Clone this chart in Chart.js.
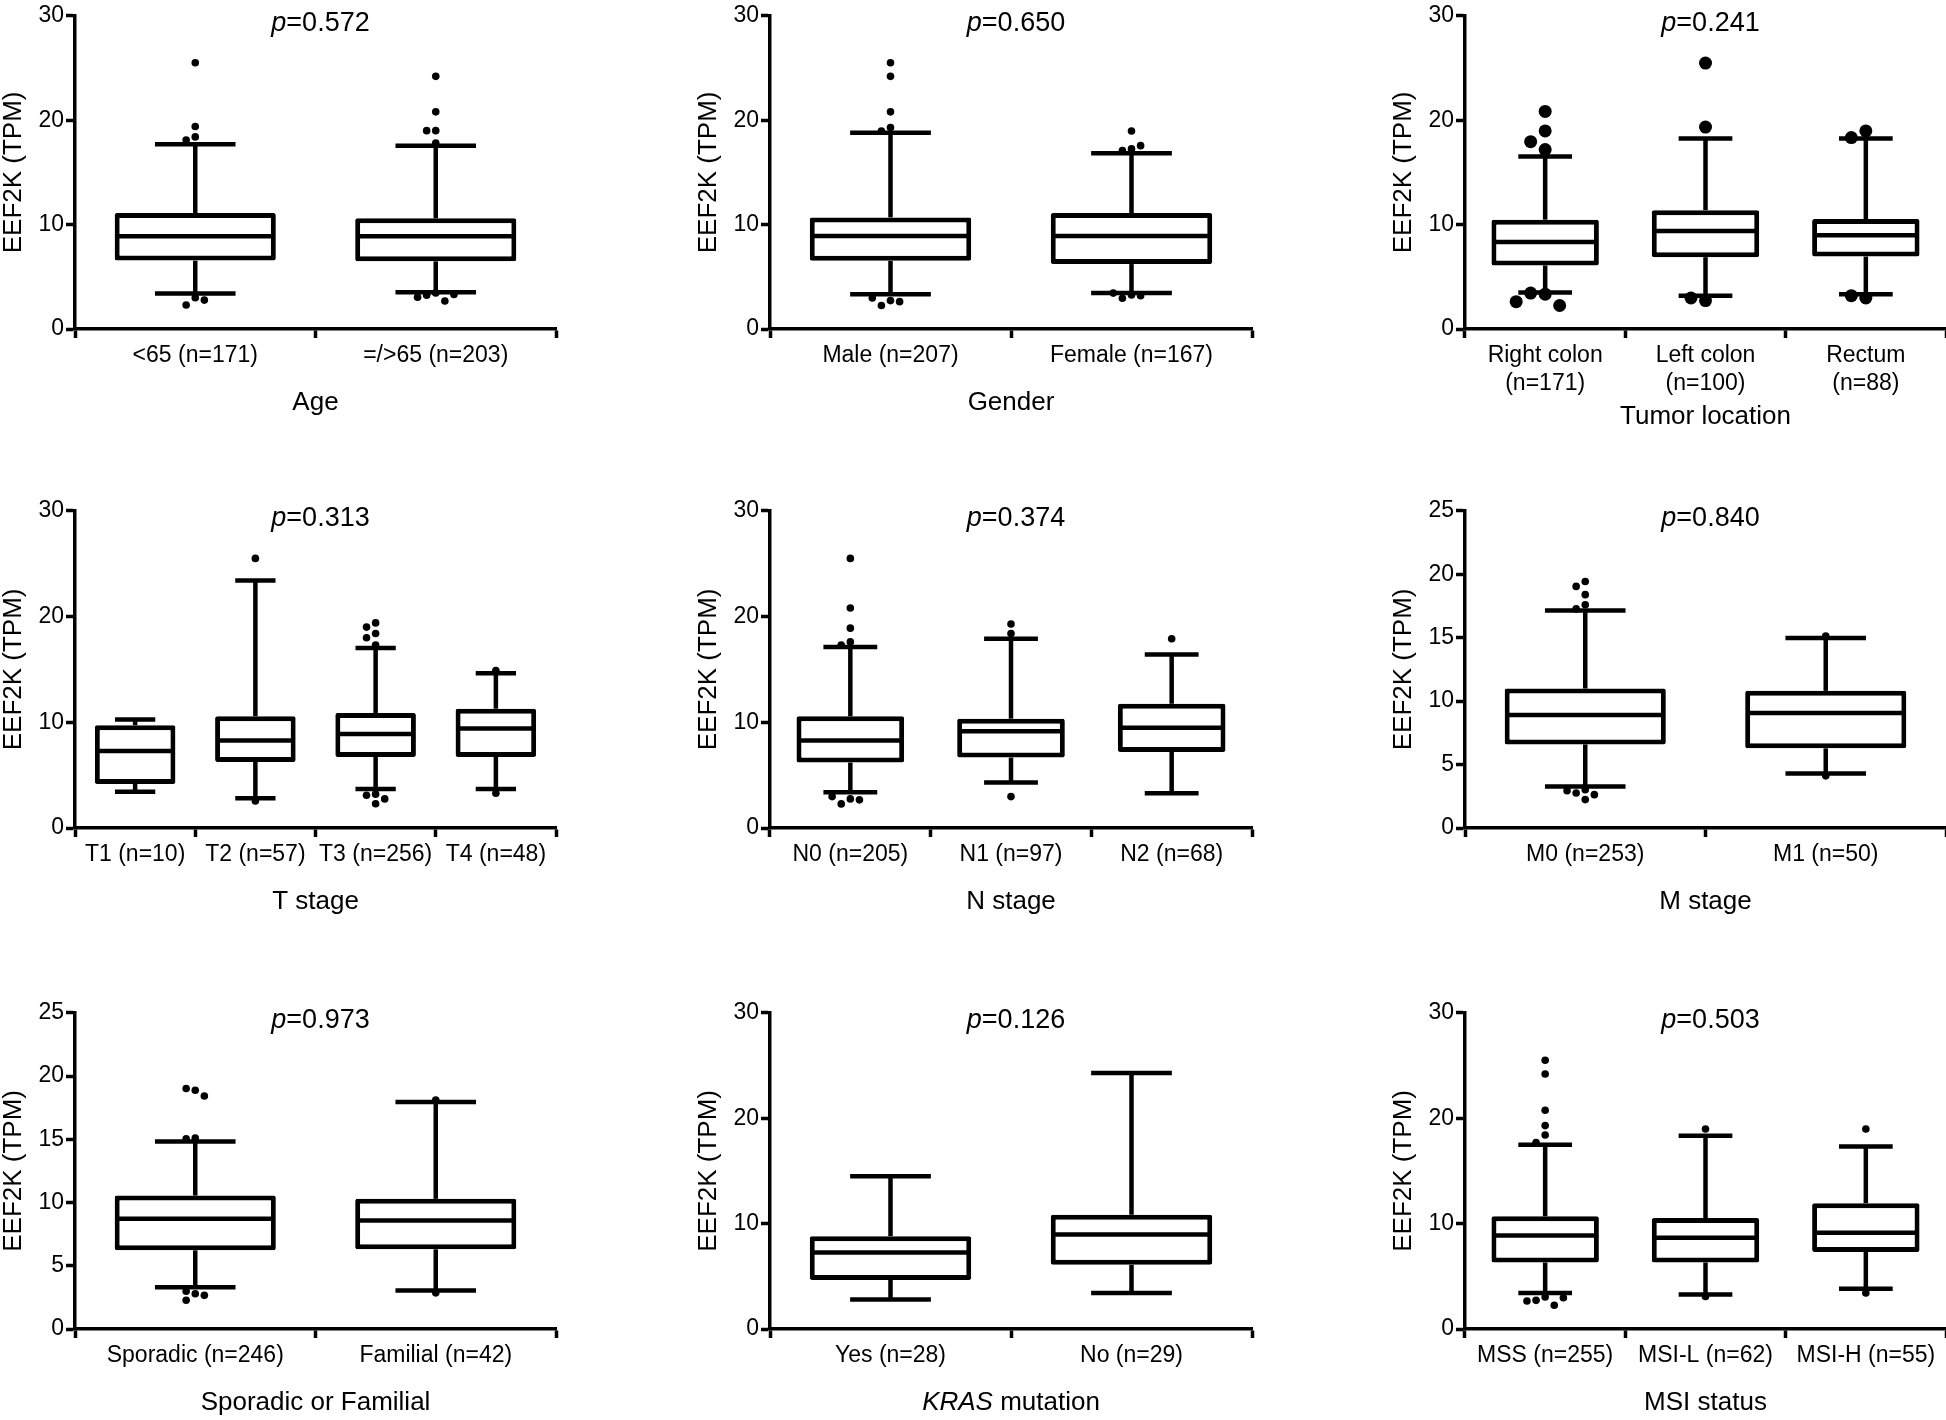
<!DOCTYPE html>
<html lang="en">
<head>
    <meta charset="UTF-8">
    <title>EEF2K expression by clinical features</title>
    <script src="https://cdn.jsdelivr.net/npm/chart.js"></script>
    <style>
        html, body { margin: 0; padding: 0; background: #fff; overflow: hidden; }
        #grid { position: relative; width: 1946px; height: 1420px; }
        #grid canvas { position: absolute; }
    </style>
</head>
<body>
    <div id="grid"></div>

    <script>
        // box = [lower whisker, Q1, median, Q3, upper whisker]
        const ageLabels = ['<65 (n=171)', '=/>65 (n=203)'];
        const ageBox = [[3.4, 6.55, 8.88, 11.1, 17.7], [3.53, 6.48, 8.88, 10.6, 17.56]];
        const ageOut = [[25.5, 19.4, 18.4, 18.1, 2.99, 2.3, 2.77], [24.2, 20.8, 19.0, 19.0, 17.8, 3.46, 3.24, 2.68, 3.05, 3.3]];

        const genderLabels = ['Male (n=207)', 'Female (n=167)'];
        const genderBox = [[3.34, 6.53, 8.9, 10.69, 18.8], [3.44, 6.22, 8.9, 11.1, 16.84]];
        const genderOut = [[25.5, 24.2, 20.8, 19.3, 18.97, 2.72, 2.25, 2.62, 2.97], [18.97, 17.25, 17.1, 17.56, 3.25, 2.94, 3.19, 3.44]];

        const locLabels = [['Right colon', '(n=171)'], ['Left colon', '(n=100)'], ['Rectum', '(n=88)']];
        const locBox = [[3.5, 6.09, 8.34, 10.47, 16.53], [3.19, 6.88, 9.38, 11.38, 18.25], [3.34, 6.94, 8.97, 10.53, 18.25]];
        const locOut = [[20.84, 18.97, 17.94, 17.19, 3.34, 3.44, 2.25, 2.62], [25.47, 19.34, 2.72, 2.97], [18.97, 18.34, 2.97, 3.19]];

        const tLabels = ['T1 (n=10)', 'T2 (n=57)', 'T3 (n=256)', 'T4 (n=48)'];
        const tBox = [[3.44, 4.16, 7.28, 9.72, 10.25], [2.81, 6.25, 8.28, 10.56, 23.4], [3.69, 6.72, 8.9, 10.88, 17.03], [3.69, 6.72, 9.41, 11.28, 14.63]];
        const tOut = [[], [25.5, 2.55], [19.4, 19.0, 18.4, 18.0, 17.3, 3.2, 3.1, 2.75, 2.3], [14.9, 3.28]];

        const nLabels = ['N0 (n=205)', 'N1 (n=97)', 'N2 (n=68)'];
        const nBox = [[3.38, 6.19, 8.28, 10.56, 17.13], [4.31, 6.66, 9.16, 10.34, 17.9], [3.28, 7.19, 9.47, 11.75, 16.4]];
        const nOut = [[25.5, 20.8, 18.9, 17.6, 17.3, 2.75, 2.28, 2.66, 2.97], [19.3, 18.4, 2.97], [17.9]];

        const mLabels = ['M0 (n=253)', 'M1 (n=50)'];
        const mBox = [[3.28, 6.59, 8.91, 10.99, 17.14], [4.3, 6.28, 9.06, 10.81, 14.97]];
        const mOut = [[19.43, 19.04, 18.39, 17.6, 17.27, 3.02, 2.76, 2.24, 2.63, 2.94], [15.13, 4.11]];

        const famLabels = ['Sporadic (n=246)', 'Familial (n=42)'];
        const famBox = [[3.31, 6.22, 8.72, 10.55, 14.82], [3.05, 6.3, 8.57, 10.29, 17.94]];
        const famOut = [[18.88, 19.01, 18.42, 15.1, 15.03, 2.79, 2.27, 2.66, 2.99], [18.1, 2.86]];

        const krasLabels = ['Yes (n=28)', 'No (n=29)'];
        const krasBox = [[2.81, 4.66, 7.25, 8.81, 14.5], [3.41, 6.09, 8.97, 10.84, 24.28]];
        const krasOut = [[], []];

        const msiLabels = ['MSS (n=255)', 'MSI-L (n=62)', 'MSI-H (n=55)'];
        const msiBox = [[3.41, 6.31, 8.88, 10.69, 17.47], [3.28, 6.31, 8.66, 10.53, 18.34], [3.81, 7.31, 9.13, 11.94, 17.31]];
        const msiOut = [[25.5, 24.2, 20.75, 19.3, 18.4, 17.7, 3.03, 2.72, 2.25, 2.66, 2.97], [18.97, 3.09], [18.97, 3.41]];

        const pValues = ['0.572', '0.650', '0.241', '0.313', '0.374', '0.840', '0.973', '0.126', '0.503'];
        const yMaxes = [30, 30, 30, 30, 30, 25, 25, 30, 30];

        const FONT = '"Liberation Sans", Arial, Helvetica, sans-serif';

        // panel grid (pixels)
        const colAxisX = [75, 770, 1465];
        const colEndX = [556, 1252, 1946];
        const rowTop = [12, 507, 1009];
        const rowBottom = [329, 828, 1329];

        const panels = [
            { labels: ageLabels, box: ageBox, out: ageOut, title: [['Age', false]] },
            { labels: genderLabels, box: genderBox, out: genderOut, title: [['Gender', false]] },
            { labels: locLabels, box: locBox, out: locOut, title: [['Tumor location', false]], dotR: 6.5, titleDy: 88 },
            { labels: tLabels, box: tBox, out: tOut, title: [['T stage', false]] },
            { labels: nLabels, box: nBox, out: nOut, title: [['N stage', false]] },
            { labels: mLabels, box: mBox, out: mOut, title: [['M stage', false]] },
            { labels: famLabels, box: famBox, out: famOut, title: [['Sporadic or Familial', false]] },
            { labels: krasLabels, box: krasBox, out: krasOut, title: [['KRAS', true], [' mutation', false]] },
            { labels: msiLabels, box: msiBox, out: msiOut, title: [['MSI status', false]] }
        ];

        // draws mixed italic / regular text centred on x
        function drawParts(ctx, parts, cx, cy, size) {
            const fonts = parts.map(p => (p[1] ? 'italic ' : '') + size + 'px ' + FONT);
            let total = 0;
            const widths = parts.map((p, i) => { ctx.font = fonts[i]; const w = ctx.measureText(p[0]).width; total += w; return w; });
            let x = cx - total / 2;
            ctx.textAlign = 'left';
            ctx.textBaseline = 'middle';
            parts.forEach((p, i) => { ctx.font = fonts[i]; ctx.fillText(p[0], x, cy); x += widths[i]; });
        }

        const boxExtras = {
            id: 'boxExtras',
            afterDatasetsDraw(chart, args, opts) {
                const { ctx, scales: { y } } = chart;
                const meta = chart.getDatasetMeta(0);
                const r = opts.dotR;
                const d = 2 * r + 1.5;
                ctx.save();
                ctx.strokeStyle = '#000';
                ctx.fillStyle = '#000';
                ctx.lineWidth = 4.5;
                const line = (x1, y1, x2, y2) => { ctx.beginPath(); ctx.moveTo(x1, y1); ctx.lineTo(x2, y2); ctx.stroke(); };
                opts.box.forEach((b, i) => {
                    const bar = meta.data[i];
                    const cx = bar.x, half = bar.width / 2;
                    const [lo, q1, med, q3, hi] = b.map(v => y.getPixelForValue(v));
                    line(cx, q3, cx, hi);
                    line(cx, q1, cx, lo);
                    line(cx - half / 2, hi, cx + half / 2, hi);
                    line(cx - half / 2, lo, cx + half / 2, lo);
                    line(cx - half + 2, med, cx + half - 2, med);

                    // outliers, spread sideways when they would overlap
                    const placed = [];
                    opts.out[i].forEach(v => {
                        const py = y.getPixelForValue(v);
                        let px = cx;
                        for (let k = 0; k < 12; k++) {
                            const step = k === 0 ? 0 : (k % 2 ? -1 : 1) * Math.ceil(k / 2);
                            const tx = cx + step * d;
                            if (placed.every(p => Math.hypot(p[0] - tx, p[1] - py) >= d)) { px = tx; break; }
                        }
                        placed.push([px, py]);
                        ctx.beginPath();
                        ctx.arc(px, py, r, 0, Math.PI * 2);
                        ctx.fill();
                    });
                });
                ctx.restore();
            },
            afterDraw(chart, args, opts) {
                const { ctx, chartArea } = chart;
                const midX = (chartArea.left + chartArea.right) / 2;
                const midY = (chartArea.top + chartArea.bottom) / 2;
                ctx.save();
                ctx.fillStyle = '#000';
                drawParts(ctx, [['p', true], ['=' + opts.p, false]], midX + 5, chartArea.top + 8, 27);
                drawParts(ctx, opts.title, midX, chartArea.bottom + opts.titleDy, 26);
                ctx.translate(chartArea.left - 61, midY);
                ctx.rotate(-Math.PI / 2);
                drawParts(ctx, [['EEF2K (TPM)', false]], 0, 0, 26);
                ctx.restore();
            }
        };

        const grid = document.getElementById('grid');
        const PAD_TOP = 12, AXIS_W = 75, XAXIS_H = 112, PAD_R = 20;

        panels.forEach((panel, k) => {
            const col = k % 3, row = Math.floor(k / 3);
            const plotW = colEndX[col] - colAxisX[col];
            const plotH = rowBottom[row] - rowTop[row];
            const canvas = document.createElement('canvas');
            canvas.width = plotW + AXIS_W + PAD_R;
            canvas.height = plotH + PAD_TOP + XAXIS_H;
            canvas.style.left = (colAxisX[col] - AXIS_W) + 'px';
            canvas.style.top = (rowTop[row] - PAD_TOP) + 'px';
            grid.appendChild(canvas);

            const yMax = yMaxes[k];
            new Chart(canvas, {
                type: 'bar',
                data: {
                    labels: panel.labels,
                    datasets: [{
                        data: panel.box.map(b => [b[1], b[3]]),
                        backgroundColor: '#fff',
                        borderColor: '#000',
                        borderWidth: 5,
                        borderRadius: 2,
                        borderSkipped: false,
                        barPercentage: 0.67,
                        categoryPercentage: 1
                    }]
                },
                options: {
                    responsive: false,
                    animation: false,
                    layout: { padding: { top: PAD_TOP, left: 0, right: PAD_R, bottom: 0 } },
                    plugins: {
                        legend: { display: false },
                        tooltip: { enabled: false },
                        boxExtras: {
                            box: panel.box,
                            out: panel.out,
                            dotR: panel.dotR || 3.8,
                            p: pValues[k],
                            title: panel.title,
                            titleDy: panel.titleDy || 74
                        }
                    },
                    scales: {
                        x: {
                            afterFit: s => { s.height = XAXIS_H; },
                            grid: { display: true, drawOnChartArea: false, drawTicks: true, tickLength: 9, tickWidth: 3.5, tickColor: '#000' },
                            border: { display: true, color: '#000', width: 3.5 },
                            ticks: { color: '#000', padding: 4, maxRotation: 0, autoSkip: false, font: { family: FONT, size: 23 } }
                        },
                        y: {
                            min: 0,
                            max: yMax,
                            afterFit: s => { s.width = AXIS_W; },
                            grid: { display: true, drawOnChartArea: false, drawTicks: true, tickLength: 9, tickWidth: 3.5, tickColor: '#000' },
                            border: { display: true, color: '#000', width: 3.5 },
                            ticks: { color: '#000', padding: 2, stepSize: yMax === 25 ? 5 : 10, font: { family: FONT, size: 23 } }
                        }
                    }
                },
                plugins: [boxExtras]
            });
        });
    </script>
</body>
</html>
